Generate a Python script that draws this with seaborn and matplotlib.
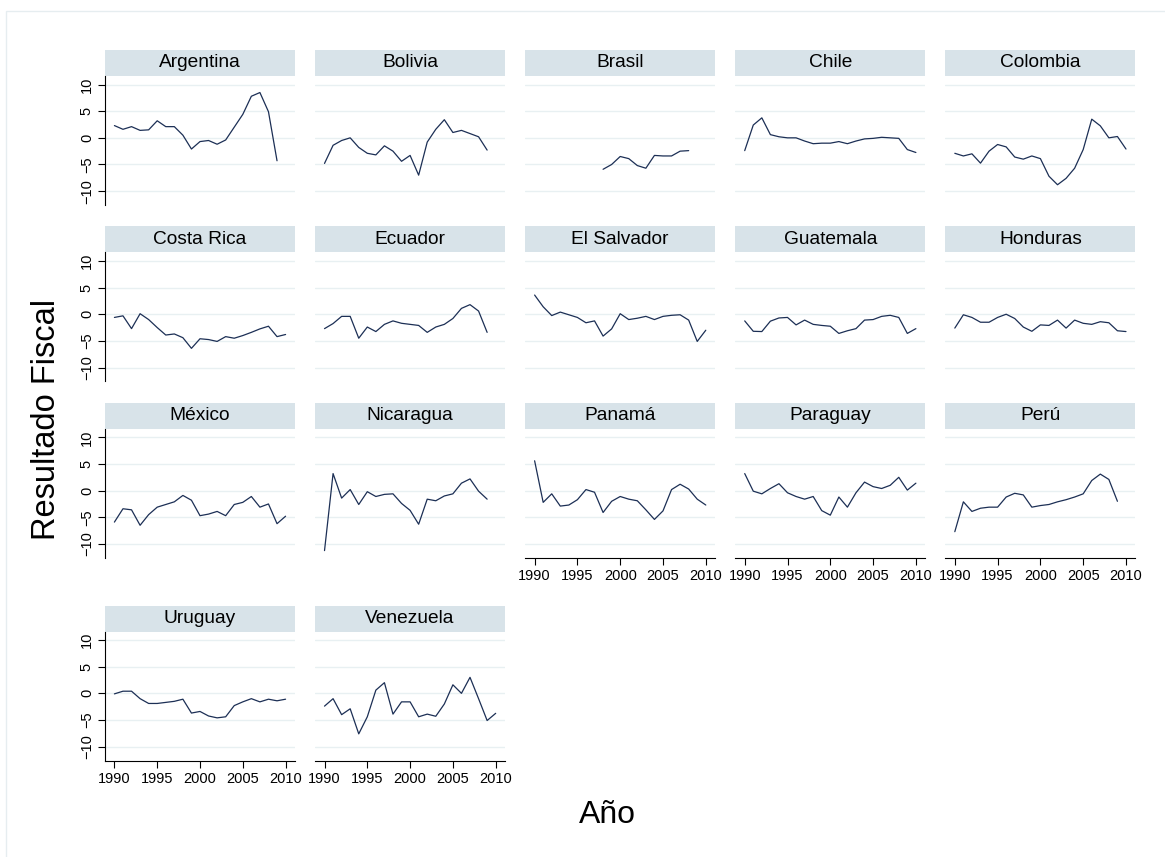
import pandas as pd
import seaborn as sns
import matplotlib
matplotlib.use("Agg")
import matplotlib.pyplot as plt
from matplotlib.patches import Rectangle

# Resultado fiscal (% del PIB) por pais, 1990-2010
anios = list(range(1990, 2011))
paises = ["Argentina", "Bolivia", "Brasil", "Chile", "Colombia",
          "Costa Rica", "Ecuador", "El Salvador", "Guatemala", "Honduras",
          "México", "Nicaragua", "Panamá", "Paraguay", "Perú",
          "Uruguay", "Venezuela"]

argentina = [2.3, 1.6, 2.1, 1.4, 1.5, 3.2, 2.1, 2.1, 0.5, -2.1, -0.7, -0.5, -1.2, -0.4, 2.0, 4.4, 7.8, 8.5, 4.9, -4.3, None]
bolivia = [-4.8, -1.4, -0.5, 0.0, -1.8, -2.9, -3.2, -1.5, -2.5, -4.4, -3.3, -7.0, -0.8, 1.6, 3.4, 1.0, 1.4, 0.8, 0.2, -2.3, None]
brasil = [None, None, None, None, None, None, None, None, -5.9, -5.0, -3.5, -3.9, -5.2, -5.7, -3.3, -3.4, -3.4, -2.5, -2.4, None, None]
chile = [-2.4, 2.4, 3.75, 0.6, 0.2, 0.0, 0.0, -0.6, -1.1, -1.0, -1.0, -0.7, -1.1, -0.6, -0.2, -0.1, 0.1, 0.0, -0.1, -2.2, -2.75]
colombia = [-2.9, -3.4, -3.0, -4.75, -2.5, -1.25, -1.7, -3.6, -4.0, -3.4, -3.9, -7.2, -8.8, -7.6, -5.7, -2.2, 3.5, 2.25, 0.0, 0.25, -2.1]
costa_rica = [-0.6, -0.3, -2.7, 0.1, -1.0, -2.5, -3.9, -3.7, -4.4, -6.4, -4.6, -4.75, -5.1, -4.2, -4.5, -4.0, -3.4, -2.75, -2.25, -4.2, -3.8]
ecuador = [-2.7, -1.75, -0.4, -0.4, -4.5, -2.4, -3.25, -1.9, -1.25, -1.7, -1.9, -2.1, -3.4, -2.4, -1.9, -0.8, 1.1, 1.8, 0.6, -3.4, None]
el_salvador = [3.6, 1.4, -0.25, 0.4, -0.1, -0.6, -1.6, -1.25, -4.1, -2.75, 0.1, -1.0, -0.75, -0.4, -1.0, -0.4, -0.2, -0.1, -1.1, -5.1, -3.0]
guatemala = [-1.25, -3.2, -3.25, -1.3, -0.7, -0.6, -2.0, -1.1, -1.9, -2.1, -2.25, -3.6, -3.1, -2.7, -1.1, -1.0, -0.4, -0.2, -0.6, -3.6, -2.7]
honduras = [-2.6, -0.1, -0.6, -1.5, -1.5, -0.6, 0.0, -0.8, -2.4, -3.2, -2.0, -2.1, -1.1, -2.6, -1.1, -1.7, -1.9, -1.4, -1.6, -3.1, -3.25]
mexico = [-5.9, -3.4, -3.6, -6.5, -4.5, -3.1, -2.6, -2.1, -0.9, -1.8, -4.7, -4.4, -3.9, -4.7, -2.6, -2.2, -1.1, -3.1, -2.5, -6.2, -4.8]
nicaragua = [-11.25, 3.2, -1.4, 0.2, -2.6, -0.2, -1.1, -0.7, -0.6, -2.4, -3.7, -6.3, -1.6, -1.9, -1.0, -0.6, 1.4, 2.2, -0.1, -1.6, None]
panama = [5.6, -2.2, -0.6, -2.9, -2.7, -1.7, 0.2, -0.3, -4.1, -2.0, -1.1, -1.6, -1.9, -3.6, -5.4, -3.8, 0.2, 1.2, 0.3, -1.6, -2.7]
paraguay = [3.2, -0.1, -0.6, 0.4, 1.3, -0.4, -1.1, -1.6, -1.1, -3.75, -4.6, -1.2, -3.1, -0.4, 1.6, 0.75, 0.4, 1.0, 2.5, 0.1, 1.4]
peru = [-7.7, -2.1, -3.9, -3.3, -3.1, -3.1, -1.2, -0.5, -0.8, -3.1, -2.8, -2.6, -2.1, -1.7, -1.2, -0.6, 1.9, 3.1, 2.1, -2.0, None]
uruguay = [-0.1, 0.4, 0.4, -1.0, -1.9, -1.9, -1.7, -1.5, -1.1, -3.7, -3.4, -4.25, -4.6, -4.4, -2.3, -1.6, -1.0, -1.6, -1.1, -1.4, -1.1]
venezuela = [-2.4, -1.0, -4.0, -2.9, -7.6, -4.4, 0.6, 2.0, -3.9, -1.6, -1.6, -4.4, -3.9, -4.3, -2.0, 1.6, 0.0, 3.0, -1.0, -5.1, -3.75]

series = [argentina, bolivia, brasil, chile, colombia, costa_rica, ecuador,
          el_salvador, guatemala, honduras, mexico, nicaragua, panama,
          paraguay, peru, uruguay, venezuela]

yticks = [-10, -5, 0, 5, 10]
xticks = [1990, 1995, 2000, 2005, 2010]

# long table for seaborn
rows = []
for pais, valores in zip(paises, series):
    for anio, v in zip(anios, valores):
        if v is not None:
            rows.append({"pais": pais, "anio": anio, "resultado": v})
df = pd.DataFrame(rows)

sns.set_style("white")
plt.rcParams["font.family"] = ["Liberation Sans", "DejaVu Sans"]
plt.rcParams["text.color"] = "black"
plt.rcParams["xtick.color"] = "black"
plt.rcParams["ytick.color"] = "black"
plt.rcParams["xtick.labelcolor"] = "black"
plt.rcParams["ytick.labelcolor"] = "black"

line_color = "#1c2f55"
strip_color = "#d8e3e9"
grid_color = "#e8f0f2"

g = sns.relplot(data=df, x="anio", y="resultado", col="pais", col_order=paises,
                col_wrap=5, kind="line", estimator=None, color=line_color,
                linewidth=0.9, height=2, aspect=1.4,
                facet_kws=dict(sharex=True, sharey=True))
fig = g.figure
fig.set_size_inches(11.65, 8.57)
W, H = 1165.0, 857.0
g.set_titles("")
g.set_axis_labels("", "")

bottom_axes = [12, 13, 14, 15, 16]
row_tops = [76, 252.4, 428.8, 631.5]

for i, ax in enumerate(g.axes.flat):
    r, c = divmod(i, 5)
    left = 105 + 210.1 * c
    top = row_tops[r]
    ax.set_position([left / W, 1 - (top + 129) / H, 190 / W, 129 / H])

    ax.set_xlim(1988.9, 2011.1)
    ax.set_ylim(-12.6, 11.6)
    ax.set_yticks(yticks)
    ax.set_xticks(xticks)
    ax.grid(axis="y", color=grid_color, linewidth=1.0)
    ax.grid(axis="x", visible=False)
    ax.set_axisbelow(True)
    for s in ax.spines.values():
        s.set_visible(False)

    if c == 0:
        ax.spines["left"].set_visible(True)
        ax.spines["left"].set_color("black")
        ax.spines["left"].set_linewidth(0.8)
        ax.tick_params(axis="y", left=True, labelleft=True, length=5,
                       width=0.8, pad=3, labelsize=10.5, labelrotation=90,
                       color="black", labelcolor="black")
        for lab in ax.get_yticklabels():
            lab.set_va("center")
    else:
        ax.tick_params(axis="y", left=False, labelleft=False)

    if i in bottom_axes:
        ax.spines["bottom"].set_visible(True)
        ax.spines["bottom"].set_color("black")
        ax.spines["bottom"].set_linewidth(0.8)
        ax.tick_params(axis="x", bottom=True, labelbottom=True, length=5,
                       width=0.8, pad=3, labelsize=10.5, color="black",
                       labelcolor="black")
    else:
        ax.tick_params(axis="x", bottom=False, labelbottom=False)

    # title strip
    sh = 26 / 129
    ax.add_patch(Rectangle((0, 1), 1, sh, transform=ax.transAxes,
                           facecolor=strip_color, edgecolor="none",
                           clip_on=False))
    ax.text(0.5, 1 + sh / 2, paises[i], transform=ax.transAxes,
            ha="center", va="center", fontsize=13.8, color="black")

fig.text(47 / W, 1 - 420 / H, "Resultado Fiscal", rotation=90,
         ha="center", va="center", fontsize=23.5, color="black")
fig.text(607 / W, 1 - 815 / H, "Año", ha="center", va="center",
         fontsize=23, color="black")

# light outer frame
fig.patches.append(Rectangle((5.5 / W, -0.05), 1.2, 1 - 11 / H + 0.05,
                             transform=fig.transFigure, fill=False,
                             edgecolor="#e6edf0", linewidth=1.0))

fig.savefig("out.png", dpi=100)
